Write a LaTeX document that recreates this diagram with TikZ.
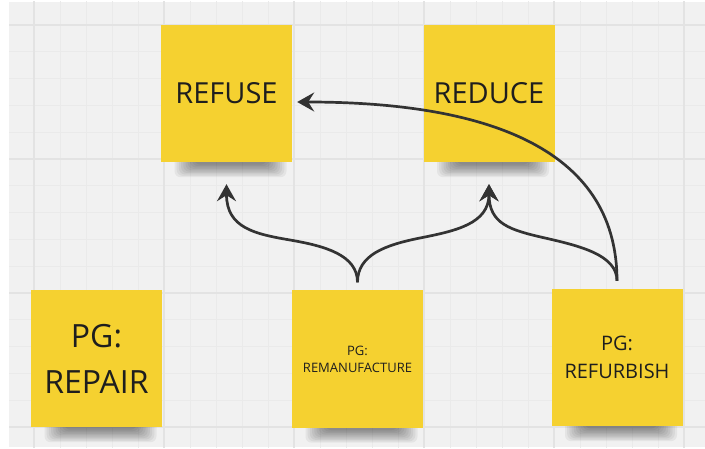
\documentclass[tikz,border=0pt]{standalone}
\usepackage{fontspec}
\setmainfont{Open Sans}
\usetikzlibrary{arrows.meta,backgrounds}

\definecolor{board}{HTML}{F1F1F1}
\definecolor{gridminor}{HTML}{EAEAEA}
\definecolor{gridmajor}{HTML}{E3E3E3}
\definecolor{sticky}{HTML}{F5D130}
\definecolor{ink}{HTML}{333333}
\definecolor{label}{HTML}{1E1E1E}

\tikzset{
  note/.style={fill=sticky, minimum width=131pt, minimum height=137pt,
    inner sep=0pt, align=center, text=label},
  shadowband/.style={fill=black, opacity=0.05, rounded corners=6pt},
  link/.style={draw=ink, line width=2.7pt},
  flow/.style={link, -{Stealth[length=17pt,width=19pt,inset=6pt]}},
}

\begin{document}
\begin{tikzpicture}[x=1pt, y=-1pt]
  \useasboundingbox (0,0) rectangle (705,449);

  % sticky notes
  \node[note, font=\fontsize{29}{35}\selectfont] (refuse) at (226.5,93.5) {REFUSE};
  \node[note, font=\fontsize{29}{35}\selectfont] (reduce) at (489,93.5) {REDUCE};
  \node[note, font=\fontsize{32}{46}\selectfont] (repair) at (96.5,358.5) {PG:\\REPAIR};
  \node[note, font=\fontsize{13}{17}\selectfont] (reman) at (357.5,359) {PG:\\REMANUFACTURE};
  \node[note, font=\fontsize{20}{28}\selectfont] (refurb) at (617,357.5) {PG:\\REFURBISH};

  \begin{scope}[on background layer]
    \fill[white] (0,0) rectangle (705,449);
    % whiteboard with its grid
    \begin{scope}
      \clip (9,2) rectangle (705,447);
      \fill[board] (9,2) rectangle (705,447);
      \foreach \i in {0,...,27}
        \draw[gridminor, line width=0.8pt] (8+26*\i,0) -- (8+26*\i,449);
      \foreach \j in {0,...,17}
        \draw[gridminor, line width=0.8pt] (0,-1.8+26.8*\j) -- (705,-1.8+26.8*\j);
      \foreach \i in {0,...,5}
        \draw[gridmajor, line width=1.4pt] (34+130*\i,0) -- (34+130*\i,449);
      \foreach \j in {0,...,3}
        \draw[gridmajor, line width=1.4pt] (0,25+134*\j) -- (705,25+134*\j);
    \end{scope}
    % soft shadows under the notes
    \foreach \n in {refuse,reduce,repair,reman,refurb} {
      \begin{scope}[shift={(\n.south)}]
        \foreach \k in {0,...,9}
          \fill[shadowband] (-52+2.2*\k,-10) rectangle (60-2.2*\k,15-1.4*\k);
      \end{scope}
    }
  \end{scope}

  % connector end points
  \coordinate (remanTop) at ([yshift=8pt]reman.north);
  \coordinate (refurbTop) at ([yshift=8pt]refurb.north);
  \coordinate (refuseIn) at ([yshift=-22pt]refuse.south);
  \coordinate (reduceIn) at ([yshift=-22pt]reduce.south);
  \coordinate (refuseSide) at ([xshift=5pt,yshift=-8.5pt]refuse.east);

  % connectors
  \draw[flow] (remanTop) .. controls (357.5,255) and (325,246) .. (290,240)
    .. controls (255,234) and (226.5,228) .. (refuseIn);
  \draw[flow] (remanTop) .. controls (357.5,255) and (385,245) .. (420,238)
    .. controls (455,231) and (489,224) .. (reduceIn);
  \draw[flow] (refurbTop) .. controls (617,255) and (580,246) .. (545,238)
    .. controls (510,230) and (489,224) .. (reduceIn);
  \draw[flow] (refurbTop) .. controls (617,145) and (480,102) .. (refuseSide);
\end{tikzpicture}
\end{document}
